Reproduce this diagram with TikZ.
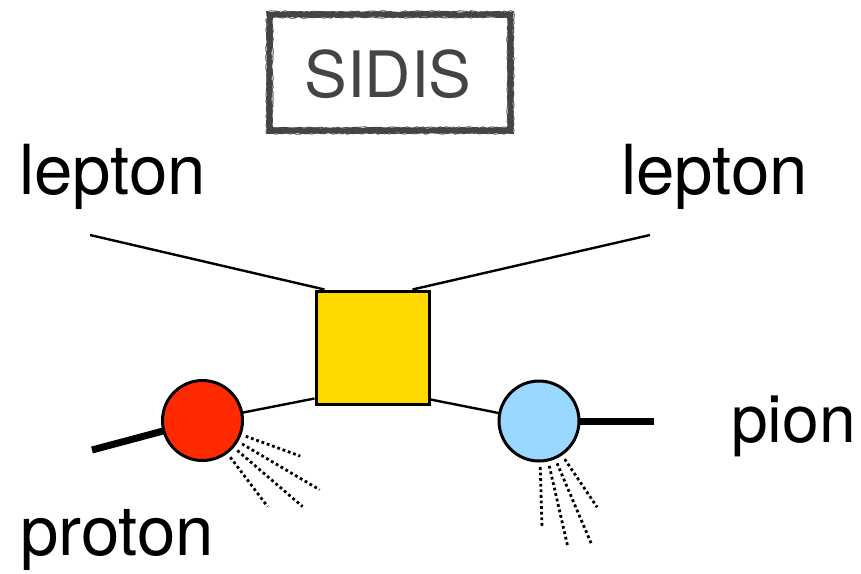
\documentclass[tikz,border=0pt]{standalone}
\usepackage{fontspec}
\setmainfont{TeX Gyre Heros}
\usetikzlibrary{decorations.pathmorphing}
\definecolor{protonred}{HTML}{FF2A00}
\definecolor{pionblue}{HTML}{99D8FF}
\definecolor{vertexyellow}{HTML}{FFD800}
\definecolor{framegray}{HTML}{444444}
\tikzset{
  label text/.style={font=\fontsize{69}{80}\selectfont, inner sep=0pt, anchor=base west},
  thin leg/.style={line width=2.4pt},
  thick leg/.style={line width=7pt},
  blob/.style={circle, draw, line width=3pt, minimum size=80pt, inner sep=0pt},
  spray/.style={line width=2.8pt, dash pattern=on 2.8pt off 2.8pt},
  rough/.style={draw=framegray, decorate, decoration={random steps, segment length=3pt, amplitude=0.8pt}},
}
\begin{document}
\begin{tikzpicture}[x=1pt, y=-1pt]
  \useasboundingbox (0,0) rectangle (861,573);

  % title frame with a brushed border
  \node[font=\fontsize{64}{70}\selectfont, text=framegray, inner sep=0pt, anchor=base] (title) at (388,97) {SIDIS};
  \foreach \o/\w in {0/4.5pt, 1.8/1.6pt, -1.8/1.6pt, 3/0.9pt, -3/0.9pt}{
    \draw[rough, line width=\w] (269.5-\o,14.5-\o) rectangle (510.5+\o,130.5+\o);
  }

  % labels
  \node[label text] (lepin)  at (19,194)  {lepton};
  \node[label text] (lepout) at (621,194) {lepton};
  \node[label text] (proton) at (20,555)  {proton};
  \node[label text, anchor=base east, font=\fontsize{66}{80}\selectfont] (pion) at (856,442) {pion};

  % hard vertex and the two soft blobs
  \node[draw, line width=3pt, fill=vertexyellow, minimum size=113pt, inner sep=0pt] (hard) at (372.5,347.5) {};
  \coordinate (pdfc) at (202.5,420.5);
  \coordinate (ffc)  at (539,421);

  % external ends
  \coordinate (lin)  at (90,235);
  \coordinate (lout) at (650,235);
  \coordinate (pin)  at (92,450);
  \coordinate (pout) at (654,421);

  % lepton legs meeting at the top of the vertex
  \draw[thin leg] (lin) -- ([xshift=10pt]hard.north west);
  \draw[thin leg] (lout) -- ([xshift=-18pt]hard.north east);

  % hadron legs
  \draw[thin leg] (pdfc) -- ([yshift=7pt]hard.south west);
  \draw[thin leg] ([yshift=6pt]hard.south east) -- (ffc);
  \draw[thick leg] (pin) -- (pdfc);
  \draw[thick leg] (ffc) -- (pout);

  % blobs drawn over the leg ends
  \node[blob, fill=protonred] (pdf) at (pdfc) {};
  \node[blob, fill=pionblue]  (ff)  at (ffc) {};

  % unobserved remnants
  \foreach \a/\r in {20/104, 30.6/136, 40.7/132, 52.9/108}{
    \draw[spray] (pdf) ++(\a:46) -- ++(\a:\r-46);
  }
  \foreach \a/\r in {88.4/107, 77.1/130, 66.9/135, 56/104}{
    \draw[spray] (ff) ++(\a:46) -- ++(\a:\r-46);
  }
\end{tikzpicture}
\end{document}
